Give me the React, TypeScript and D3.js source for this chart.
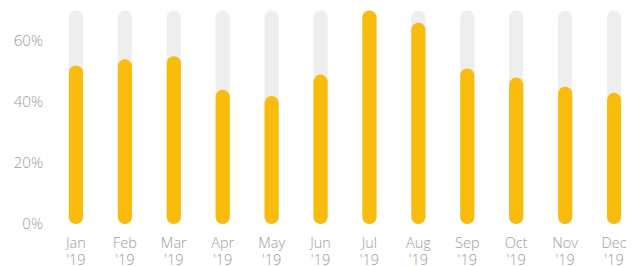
import React from 'react';
import * as d3 from 'd3';

const months = ['Jan', 'Feb', 'Mar', 'Apr', 'May', 'Jun', 'Jul', 'Aug', 'Sep', 'Oct', 'Nov', 'Dec'];
const yearLabel = "'19";
const values = [52, 54, 55, 44, 42, 49, 70, 66, 51, 48, 45, 43];
const yTicks = [0, 20, 40, 60];
const trackMax = 70;

const width = 634;
const height = 266;

const App = () => {
  const x = d3.scaleBand<string>()
    .domain(months)
    .range([51.5, 638.5])
    .paddingInner(0.71)
    .paddingOuter(0.355);

  const y = d3.scaleLinear()
    .domain([0, trackMax])
    .range([224, 10.5]);

  const bw = x.bandwidth();
  const cx = (m: string) => (x(m) ?? 0) + bw / 2;
  const font = '"Open Sans", sans-serif';

  return (
    <svg
      width={width}
      height={height}
      style={{ position: 'fixed', left: 0, top: 0, background: '#fff' }}
    >
      {/* y axis labels, no lines */}
      <g fontFamily={font} fontSize={15} fontWeight={300} fill="#9c9c9c">
        {yTicks.map(t => (
          <text key={t} x={43} y={y(t)} dy="0.35em" textAnchor="end">
            {t}%
          </text>
        ))}
      </g>

      {/* grey tracks */}
      {months.map(m => (
        <rect
          key={'t' + m}
          x={x(m)}
          y={y(trackMax)}
          width={bw}
          height={y(0) - y(trackMax)}
          rx={bw / 2}
          fill="#eeeeee"
        />
      ))}

      {/* value bars */}
      {values.map((v, i) => (
        <rect
          key={'b' + months[i]}
          x={x(months[i])}
          y={y(v)}
          width={bw}
          height={y(0) - y(v)}
          rx={bw / 2}
          fill="#f9bb0c"
        />
      ))}

      {/* month labels */}
      <g fontFamily={font} fontSize={14.5} fontWeight={300} fill="#9c9c9c" textAnchor="middle">
        {months.map(m => (
          <g key={'l' + m}>
            <text x={cx(m)} y={247.5}>{m}</text>
            <text x={cx(m)} y={265}>{yearLabel}</text>
          </g>
        ))}
      </g>
    </svg>
  );
};

export default App;
